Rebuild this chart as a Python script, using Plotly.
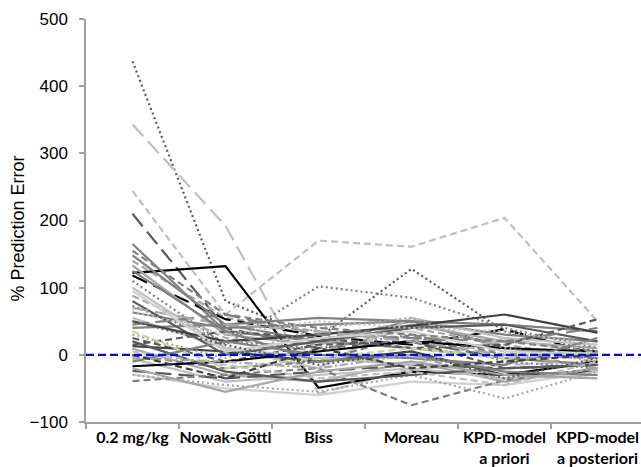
import plotly.graph_objects as go

categories = ["0.2 mg/kg", "Nowak-Göttl", "Biss", "Moreau", "KPD-model<br>a priori", "KPD-model<br>a posteriori"]

# % prediction error per patient (one list per patient, across the 6 methods)
p01 = [437, 80, 25, 128, 35, 5]
p02 = [343, 192, -58, -20, -15, -10]
p03 = [244, 60, 170, 161, 204, 50]
p04 = [210, 40, 10, 20, -5, 0]
p05 = [165, 35, 20, 50, 10, -5]
p06 = [140, 55, 35, 25, 5, -20]
p07 = [122, 132, -49, -25, -30, -10]
p08 = [118, 53, 28, 15, 38, 0]
p09 = [148, 45, 20, 10, -5, -15]
p10 = [133, 30, 15, 45, 20, 10]
p11 = [110, 15, 102, 85, 40, 10]
p12 = [88, 25, 5, 40, 15, -5]
p13 = [73, 20, 10, 30, -10, -20]
p14 = [63, 40, 45, 50, 30, 20]
p15 = [55, 10, -20, 55, 25, 0]
p16 = [40, 45, 55, 50, 45, 35]
p17 = [25, -10, 15, 20, -20, -15]
p18 = [13, 5, -10, 5, -30, -25]
p19 = [9, -30, -40, -10, -40, -20]
p20 = [-1, -20, -10, 30, 0, -5]
p21 = [-6, -40, -30, -20, -35, -30]
p22 = [-17, -10, 5, 20, 10, 5]
p23 = [-24, -35, -25, -15, -20, -15]
p24 = [-29, -50, -60, -40, -45, -25]
p25 = [-39, -30, -20, -75, -38, -20]
p26 = [-30, -45, -55, -30, -65, -25]
p27 = [100, 10, -5, -15, 25, 15]
p28 = [80, 0, 20, 40, 45, 20]
p29 = [50, 20, 30, 43, 60, 33]
p30 = [45, 60, 30, 25, 20, 40]
p31 = [30, -5, 40, 55, 10, -10]
p32 = [20, -25, -40, -30, -20, -15]
p33 = [5, -15, -35, -25, -45, -10]
p34 = [-10, 20, 0, -5, -15, 25]
p35 = [15, 35, 25, 10, 15, 53]
p36 = [70, 45, 35, 20, 0, -20]
p37 = [125, 35, -10, 0, -25, -30]
p38 = [95, 5, 25, 35, 5, 0]
p39 = [35, -20, -5, 10, -5, 5]
p40 = [-5, -10, -20, 0, -40, -20]
p41 = [155, 60, 40, 30, 20, 5]
p42 = [65, 30, 50, 40, 35, 15]
p43 = [-20, -55, -25, -10, -30, -35]
p44 = [0, -35, 10, -20, -10, 0]
p45 = [50, 15, -15, 5, -35, -5]

patients = [p01, p02, p03, p04, p05, p06, p07, p08, p09, p10, p11, p12, p13, p14, p15,
            p16, p17, p18, p19, p20, p21, p22, p23, p24, p25, p26, p27, p28, p29, p30,
            p31, p32, p33, p34, p35, p36, p37, p38, p39, p40, p41, p42, p43, p44, p45]

DOT = "2px,3px"
DASH = "7px,4px"
LDASH = "16px,7px"
DDOT = "8px,3px,2px,3px"
styles = [
    ("#595959", DOT), ("#bfbfbf", LDASH), ("#bfbfbf", DASH), ("#595959", LDASH), ("#808080", "solid"),
    ("#a6a6a6", DASH), ("#000000", "solid"), ("#000000", LDASH), ("#7f7f7f", "solid"), ("#a6a6a6", "solid"),
    ("#7f7f7f", DOT), ("#a6a6a6", DASH), ("#808080", DOT), ("#7f7f7f", "solid"), ("#bfbfbf", "solid"),
    ("#808080", "solid"), ("#595959", DASH), ("#404040", "solid"), ("#a6a6a6", "solid"), ("#7f7f7f", DASH),
    ("#bfbfbf", "solid"), ("#000000", "solid"), ("#595959", LDASH), ("#d0d0d0", "solid"), ("#7f7f7f", DASH),
    ("#a6a6a6", DOT), ("#bfbfbf", "solid"), ("#595959", "solid"), ("#404040", "solid"), ("#7f7f7f", LDASH),
    ("#a6a6a6", DOT), ("#595959", "solid"), ("#bfbfbf", DASH), ("#808080", "solid"), ("#595959", DASH),
    ("#a6a6a6", LDASH), ("#7f7f7f", "solid"), ("#d0d0d0", "solid"), ("#c3d69b", DASH), ("#a6a6a6", DDOT),
    ("#808080", DASH), ("#bfbfbf", DOT), ("#a6a6a6", "solid"), ("#404040", DASH), ("#595959", DOT),
]

fig = go.Figure()
for vals, (col, dash) in zip(patients, styles):
    fig.add_trace(go.Scatter(x=categories, y=vals, mode="lines",
                             line=dict(color=col, width=2.2, dash=dash),
                             showlegend=False, hoverinfo="skip"))

fig.add_shape(type="line", xref="paper", yref="y", x0=0, x1=1, y0=0, y1=0,
              line=dict(color="#0000ff", width=2.2, dash="8px,4px"))

fig.add_annotation(text="% Prediction Error", textangle=-90, showarrow=False,
                   xref="paper", yref="paper", x=0, y=0.48, xanchor="center", yanchor="middle",
                   xshift=-68, font=dict(family="Liberation Sans", size=18, color="black"))

fig.update_layout(
    width=641, height=467,
    margin=dict(l=86, r=0, t=19, b=45, autoexpand=False),
    plot_bgcolor="white", paper_bgcolor="white",
    showlegend=False,
)
fig.update_xaxes(
    type="category", range=[-0.5, 5.468],
    showline=True, linecolor="#a0a0a0", linewidth=1.5,
    ticks="outside", tickson="boundaries", ticklen=5, tickcolor="#a0a0a0", tickwidth=1.5,
    showgrid=False, zeroline=False, tickangle=0, automargin=False,
    tickfont=dict(family="Lato", size=16, color="black", weight="bold"),
)
fig.update_yaxes(
    range=[-100, 500], dtick=100,
    showline=True, linecolor="#a0a0a0", linewidth=1.5,
    ticks="outside", ticklen=5, tickcolor="#a0a0a0", tickwidth=1.5,
    showgrid=False, zeroline=False, automargin=False,
    tickfont=dict(family="Liberation Sans", size=17, color="black"),
    ticklabelstandoff=8,
)

fig.write_html("out.html")
